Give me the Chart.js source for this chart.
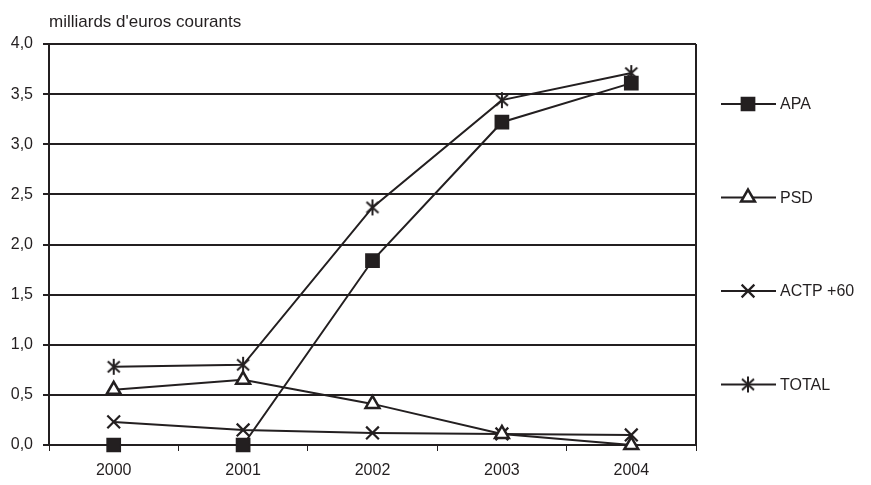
<!DOCTYPE html>
<html>
<head>
<meta charset="utf-8">
<script src="https://cdn.jsdelivr.net/npm/chart.js@4.4.0/dist/chart.umd.min.js"></script>
<style>
  html, body { margin: 0; padding: 0; background: #fff; }
  #wrap { width: 871px; height: 485px; }
</style>
</head>
<body>
<div id="wrap"><canvas id="c" width="871" height="485"></canvas></div>
<script>
// values
const years = ['2000', '2001', '2002', '2003', '2004'];
const apa = [0, 0, 1.84, 3.22, 3.61];
const psd = [0.55, 0.65, 0.41, 0.11, 0.0];
const actp = [0.23, 0.15, 0.12, 0.11, 0.1];
const total = [0.78, 0.8, 2.37, 3.44, 3.71];
const unitLabel = "milliards d'euros courants";

const ink = '#231f20';
const font = { family: '"Liberation Sans", Arial, sans-serif', size: 16 };

// six-armed asterisk like the original TOTAL marker
function makeAsterisk() {
    const c = document.createElement('canvas');
    c.width = 18; c.height = 18;
    const g = c.getContext('2d');
    g.strokeStyle = ink;
    g.lineWidth = 2;
    g.beginPath();
    g.moveTo(9, 1); g.lineTo(9, 17);
    g.moveTo(3, 3.5); g.lineTo(15, 14.5);
    g.moveTo(15, 3.5); g.lineTo(3, 14.5);
    g.stroke();
    return c;
}
const asterisk = makeAsterisk();

function series(label, data, style, radius, fill, bw) {
    return {
        label: label,
        data: data,
        borderColor: ink,
        borderWidth: 2,
        pointStyle: style,
        pointRadius: radius,
        pointHoverRadius: radius,
        pointBackgroundColor: fill,
        pointBorderColor: ink,
        pointBorderWidth: bw,
        tension: 0,
        clip: false
    };
}

// legend on the right + right border + unit label
const sidePlugin = {
    id: 'side',
    afterDraw(chart) {
        const ctx = chart.ctx;
        const area = chart.chartArea;
        ctx.save();
        ctx.strokeStyle = ink;
        ctx.lineWidth = 2;
        ctx.beginPath();
        ctx.moveTo(area.right, area.top);
        ctx.lineTo(area.right, area.bottom);
        ctx.stroke();

        ctx.fillStyle = ink;
        ctx.font = `17px ${font.family}`;
        ctx.textBaseline = 'middle';
        ctx.textAlign = 'left';
        ctx.fillText(unitLabel, area.left, 22);

        ctx.font = `${font.size}px ${font.family}`;
        chart.data.datasets.forEach((ds, i) => {
            const y = 104 + i * 93.5;
            ctx.strokeStyle = ink;
            ctx.lineWidth = 2;
            ctx.beginPath();
            ctx.moveTo(721, y);
            ctx.lineTo(776, y);
            ctx.stroke();
            ctx.fillStyle = ds.pointBackgroundColor;
            ctx.lineWidth = ds.pointBorderWidth;
            Chart.helpers.drawPoint(ctx, {
                pointStyle: ds.pointStyle,
                radius: ds.pointRadius,
                borderWidth: ds.pointBorderWidth,
                rotation: 0
            }, 748, y);
            ctx.fillStyle = ink;
            ctx.fillText(ds.label, 780, y + 1);
        });
        ctx.restore();
    }
};

new Chart(document.getElementById('c'), {
    type: 'line',
    data: {
        labels: years,
        datasets: [
            series('APA', apa, 'rect', 9, ink, 2),
            series('PSD', psd, 'triangle', 8, '#ffffff', 2.5),
            series('ACTP +60', actp, 'crossRot', 9, ink, 2.2),
            series('TOTAL', total, asterisk, 8, ink, 2)
        ]
    },
    options: {
        responsive: false,
        animation: false,
        layout: { padding: { top: 44, right: 175, left: 0, bottom: 0 } },
        plugins: {
            legend: { display: false },
            tooltip: { enabled: false }
        },
        scales: {
            x: {
                offset: true,
                afterFit(scale) { scale.height = 40; },
                grid: {
                    offset: true,
                    drawOnChartArea: false,
                    drawTicks: true,
                    tickLength: 6,
                    color: ink,
                    lineWidth: 1
                },
                border: { display: false },
                ticks: { color: ink, font: font, padding: 10, maxRotation: 0 }
            },
            y: {
                min: 0,
                max: 4,
                afterFit(scale) { scale.width = 49; },
                grid: {
                    color: ink,
                    lineWidth: 2,
                    tickLength: 6
                },
                border: { color: ink, width: 2 },
                ticks: {
                    stepSize: 0.5,
                    color: ink,
                    font: font,
                    padding: 10,
                    callback: v => v.toFixed(1).replace('.', ',')
                }
            }
        }
    },
    plugins: [sidePlugin]
});
</script>
</body>
</html>
